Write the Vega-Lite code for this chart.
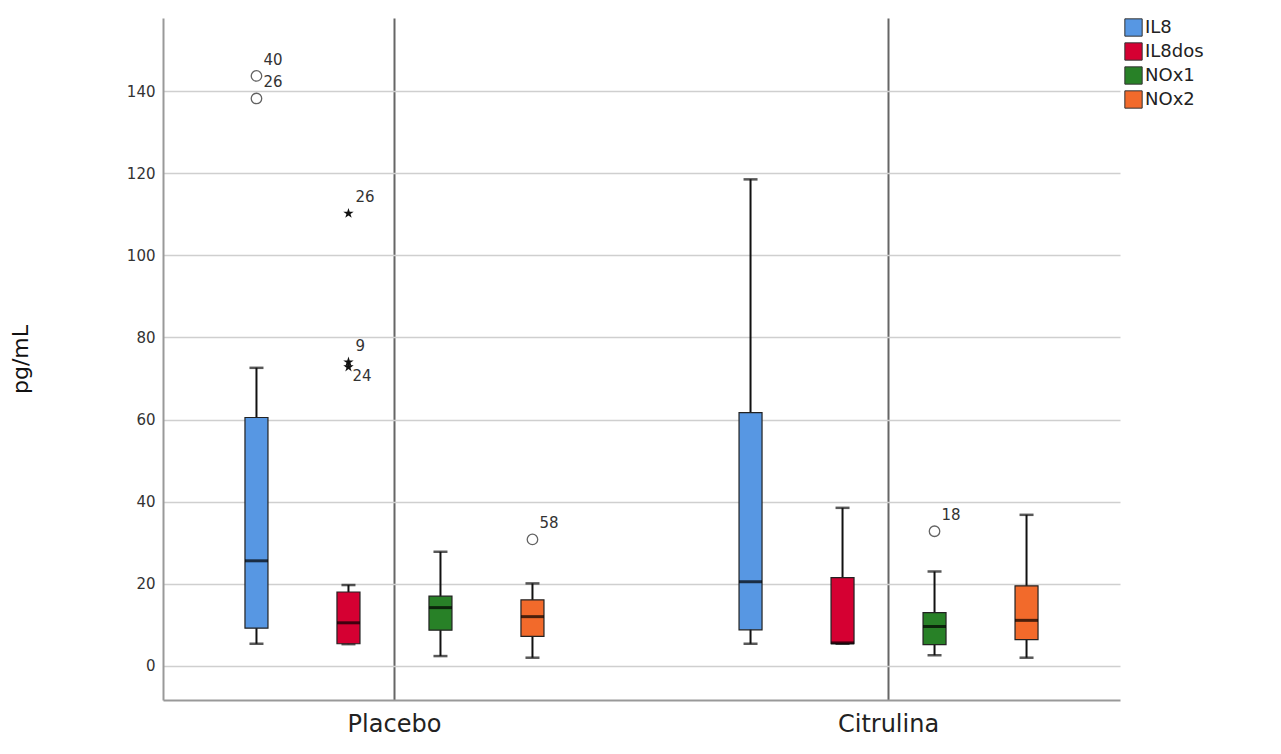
{
  "$schema": "https://vega.github.io/schema/vega-lite/v6.json",
  "width": 957,
  "height": 682,
  "autosize": {"type": "none"},
  "padding": {"left": 163, "top": 18, "right": 161, "bottom": 54},
  "background": "white",
  "datasets": {
    "boxes": [
      {"group": "Placebo", "series": "IL8", "lower": 5.4, "q1": 9.2, "median": 25.6, "q3": 60.5, "upper": 72.6},
      {"group": "Placebo", "series": "IL8dos", "lower": 5.3, "q1": 5.4, "median": 10.5, "q3": 18.0, "upper": 19.7},
      {"group": "Placebo", "series": "NOx1", "lower": 2.4, "q1": 8.7, "median": 14.2, "q3": 17.0, "upper": 27.8},
      {"group": "Placebo", "series": "NOx2", "lower": 2.0, "q1": 7.2, "median": 12.0, "q3": 16.1, "upper": 20.1},
      {"group": "Citrulina", "series": "IL8", "lower": 5.4, "q1": 8.8, "median": 20.5, "q3": 61.7, "upper": 118.5},
      {"group": "Citrulina", "series": "IL8dos", "lower": 5.4, "q1": 5.4, "median": 5.6, "q3": 21.5, "upper": 38.5},
      {"group": "Citrulina", "series": "NOx1", "lower": 2.6, "q1": 5.2, "median": 9.6, "q3": 13.0, "upper": 23.0},
      {"group": "Citrulina", "series": "NOx2", "lower": 2.0, "q1": 6.4, "median": 11.1, "q3": 19.5, "upper": 36.8}
    ],
    "outliers": [
      {"group": "Placebo", "series": "IL8", "value": 143.7, "label": "40", "kind": "outlier"},
      {"group": "Placebo", "series": "IL8", "value": 138.2, "label": "26", "kind": "outlier"},
      {"group": "Placebo", "series": "IL8dos", "value": 110.2, "label": "26", "kind": "extreme"},
      {"group": "Placebo", "series": "IL8dos", "value": 74.0, "label": "9", "kind": "extreme"},
      {"group": "Placebo", "series": "IL8dos", "value": 72.8, "label": "24", "kind": "extreme"},
      {"group": "Placebo", "series": "NOx2", "value": 30.8, "label": "58", "kind": "outlier"},
      {"group": "Citrulina", "series": "NOx1", "value": 32.8, "label": "18", "kind": "outlier"}
    ]
  },
  "encoding": {
    "x": {
      "field": "group",
      "type": "nominal",
      "sort": ["Placebo", "Citrulina"],
      "scale": {"domain": ["Placebo", "Citrulina"], "paddingInner": 0.063, "paddingOuter": 0},
      "axis": {
        "title": null,
        "labelAngle": 0,
        "labelFont": "DejaVu Sans",
        "labelFontSize": 24,
        "labelColor": "#222",
        "labelPadding": 12,
        "ticks": false,
        "domainColor": "#999",
        "domainWidth": 2,
        "grid": true,
        "bandPosition": 0.5,
        "gridColor": "#666",
        "gridWidth": 2
      }
    },
    "xOffset": {
      "field": "series",
      "type": "nominal",
      "scale": {"domain": ["IL8", "IL8dos", "NOx1", "NOx2"], "paddingInner": 0, "paddingOuter": 0.516}
    }
  },
  "layer": [
    {
      "data": {"name": "boxes"},
      "mark": {"type": "rule", "color": "#111", "strokeWidth": 2},
      "encoding": {
        "y": {
          "field": "lower",
          "type": "quantitative",
          "scale": {"domain": [-8.3, 157.8], "nice": false, "zero": false},
          "axis": {
            "title": "pg/mL",
            "titleFont": "DejaVu Sans",
            "titleFontSize": 22,
            "titleFontWeight": "normal",
            "titleColor": "#111",
            "titlePadding": 94,
            "values": [0, 20, 40, 60, 80, 100, 120, 140],
            "labelFont": "DejaVu Sans",
            "labelFontSize": 15,
            "labelColor": "#333",
            "labelPadding": 8,
            "ticks": false,
            "domainColor": "#999",
            "domainWidth": 2,
            "grid": true,
            "gridColor": "#cfcfcf",
            "gridWidth": 1.5
          }
        },
        "y2": {"field": "upper"}
      }
    },
    {
      "data": {"name": "boxes"},
      "mark": {"type": "tick", "color": "#111", "size": 14, "thickness": 2.5, "orient": "horizontal"},
      "encoding": {"y": {"field": "upper", "type": "quantitative"}}
    },
    {
      "data": {"name": "boxes"},
      "mark": {"type": "tick", "color": "#111", "size": 14, "thickness": 2.5, "orient": "horizontal"},
      "encoding": {"y": {"field": "lower", "type": "quantitative"}}
    },
    {
      "data": {"name": "boxes"},
      "mark": {"type": "bar", "width": 23, "stroke": "#222", "strokeWidth": 1.2},
      "encoding": {
        "y": {"field": "q1", "type": "quantitative"},
        "y2": {"field": "q3"},
        "color": {
          "field": "series",
          "type": "nominal",
          "scale": {"domain": ["IL8", "IL8dos", "NOx1", "NOx2"], "range": ["#5797e3", "#d50032", "#288127", "#f26a2b"]},
          "legend": {
            "title": null,
            "orient": "right",
            "offset": 4,
            "padding": 0,
            "symbolType": "square",
            "symbolSize": 300,
            "symbolStrokeColor": "#333",
            "symbolStrokeWidth": 1,
            "symbolOpacity": 1,
            "labelFont": "DejaVu Sans",
            "labelFontSize": 18,
            "labelColor": "#222",
            "labelOffset": 2,
            "rowPadding": 1
          }
        }
      }
    },
    {
      "data": {"name": "boxes"},
      "mark": {"type": "tick", "color": "#000", "size": 23, "thickness": 3, "orient": "horizontal"},
      "encoding": {"y": {"field": "median", "type": "quantitative"}}
    },
    {
      "data": {"name": "outliers"},
      "transform": [{"filter": "datum.kind === 'outlier'"}],
      "mark": {"type": "point", "shape": "circle", "size": 110, "stroke": "#222", "strokeWidth": 1.3, "fill": "white", "filled": false},
      "encoding": {"y": {"field": "value", "type": "quantitative"}}
    },
    {
      "data": {"name": "outliers"},
      "transform": [{"filter": "datum.kind === 'extreme'"}],
      "mark": {"type": "point", "shape": "M0,-1L0.2245,-0.309L0.951,-0.309L0.363,0.118L0.588,0.809L0,0.382L-0.588,0.809L-0.363,0.118L-0.951,-0.309L-0.2245,-0.309Z", "size": 120, "fill": "#111", "filled": true, "opacity": 1},
      "encoding": {"y": {"field": "value", "type": "quantitative"}}
    },
    {
      "data": {"name": "outliers"},
      "transform": [{"filter": "datum.label !== '24'"}],
      "mark": {"type": "text", "align": "left", "baseline": "middle", "dx": 7, "dy": -16, "font": "DejaVu Sans", "fontSize": 15, "color": "#333"},
      "encoding": {"y": {"field": "value", "type": "quantitative"}, "text": {"field": "label"}}
    },
    {
      "data": {"name": "outliers"},
      "transform": [{"filter": "datum.label === '24'"}],
      "mark": {"type": "text", "align": "left", "baseline": "middle", "dx": 4, "dy": 9, "font": "DejaVu Sans", "fontSize": 15, "color": "#333"},
      "encoding": {"y": {"field": "value", "type": "quantitative"}, "text": {"field": "label"}}
    }
  ],
  "config": {
    "view": {"stroke": null}
  }
}
